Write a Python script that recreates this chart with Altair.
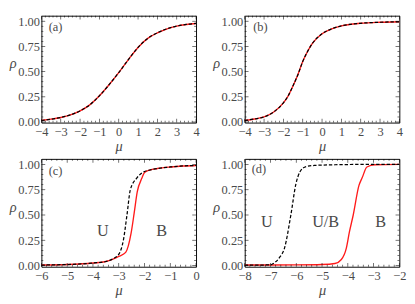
import altair as alt
import pandas as pd
import numpy as np

# ---------------- data ----------------
a_mu = [-4, -3.5, -3, -2.5, -2, -1.5, -1, -0.5, 0, 0.5, 1, 1.5, 2, 2.5, 3, 3.5, 4]
a_red = [0.015, 0.028, 0.045, 0.07, 0.11, 0.17, 0.26, 0.37, 0.49, 0.62, 0.74, 0.83, 0.885, 0.925, 0.952, 0.968, 0.978]
a_black = a_red

b_mu = [-4, -3.5, -3, -2.5, -2, -1.75, -1.5, -1.25, -1, -0.75, -0.5, 0, 0.5, 1, 1.5, 2, 3, 4]
b_red = [0.015, 0.03, 0.05, 0.1, 0.19, 0.26, 0.36, 0.47, 0.6, 0.7, 0.78, 0.875, 0.925, 0.955, 0.97, 0.98, 0.99, 0.995]
b_black = b_red

c_mu_black = [-6, -5, -4, -3.5, -3.2, -3.0, -2.82, -2.68, -2.55, -2.3, -2.0, -1.8, -1.5, -1, -0.5, 0]
c_black = [0.005, 0.01, 0.025, 0.04, 0.07, 0.11, 0.25, 0.5, 0.75, 0.865, 0.93, 0.945, 0.96, 0.975, 0.985, 0.99]
c_mu_red = [-6, -5, -4, -3.5, -3.2, -3.0, -2.73, -2.52, -2.40, -2.28, -2.1, -2.0, -1.8, -1.5, -1, -0.5, 0]
c_red = [0.005, 0.01, 0.025, 0.04, 0.065, 0.09, 0.13, 0.32, 0.52, 0.73, 0.865, 0.92, 0.945, 0.96, 0.975, 0.985, 0.99]

d_mu_black = [-8, -7.5, -7, -6.89, -6.65, -6.46, -6.21, -6.02, -5.85, -5.66, -5.3, -4.5, -3.5, -2]
d_black = [0.005, 0.005, 0.006, 0.02, 0.08, 0.17, 0.5, 0.8, 0.93, 0.975, 0.99, 0.997, 1.0, 1.0]
d_mu_red = [-8, -7, -6, -5, -4.5, -4.25, -4.06, -3.94, -3.79, -3.57, -3.44, -3.26, -2.95, -2]
d_red = [0.005, 0.005, 0.006, 0.01, 0.02, 0.06, 0.17, 0.33, 0.5, 0.79, 0.87, 0.975, 0.997, 1.0]

tags = ["(a)", "(b)", "(c)", "(d)"]
tag_mu = [-3.27, -3.19, -5.45, -7.45]
tag_rho = [0.94, 0.94, 0.93, 0.95]

c_region_text = ["U", "B"]
c_region_mu = [-3.62, -1.33]
c_region_rho = [0.34, 0.34]
d_region_text = ["U", "U/B", "B"]
d_region_mu = [-7.14, -4.86, -2.73]
d_region_rho = [0.43, 0.43, 0.43]

y_major = [0, 0.25, 0.5, 0.75, 1.0]

FONT = "Liberation Serif"
GRAY = "#4a4a4a"
W = 162


def panel(mu_r, rho_r, mu_b, rho_b, xdom, ydom, h, tag, tmu, trho,
          reg_text=None, reg_mu=None, reg_rho=None):
    xs = alt.Scale(domain=xdom, nice=False, zero=False)
    ys = alt.Scale(domain=ydom, nice=False, zero=False)
    x_major = list(range(int(xdom[0]), int(xdom[1]) + 1))
    x_minor = [v for v in np.round(np.arange(xdom[0], xdom[1] + 1e-9, 0.2), 3)
               if abs(v - round(v)) > 1e-6]
    y_minor = [v for v in np.round(np.arange(0, 1.0 + 1e-9, 0.05), 3)
               if abs(v / 0.25 - round(v / 0.25)) > 1e-6]

    xaxis = alt.Axis(values=x_major, format="d", ticks=False, domain=False, grid=False,
                     labelFont=FONT, labelFontSize=13, labelColor=GRAY, labelPadding=3,
                     labelFlush=False, labelOverlap=False,
                     title="μ", titleFont=FONT, titleFontSize=15, titleFontStyle="italic",
                     titleFontWeight="normal", titleColor=GRAY, titlePadding=1)
    yaxis = alt.Axis(values=y_major, format=".2f", ticks=False, domain=False, grid=False,
                     labelFont=FONT, labelFontSize=13, labelColor=GRAY, labelPadding=2,
                     labelFlush=False, labelOverlap=False,
                     title="ρ", titleFont=FONT, titleFontSize=15, titleFontStyle="italic",
                     titleFontWeight="normal", titleColor=GRAY, titleAngle=0,
                     titleX=-30, titleY=h * 0.44, titleAlign="center", titleBaseline="middle")

    X = alt.X("mu:Q", scale=xs, axis=xaxis)
    Y = alt.Y("rho:Q", scale=ys, axis=yaxis)

    dr = pd.DataFrame({"mu": mu_r, "rho": rho_r})
    db = pd.DataFrame({"mu": mu_b, "rho": rho_b})
    red = alt.Chart(dr).mark_line(color="#ff1a1a", strokeWidth=1.4, interpolate="monotone").encode(x=X, y=Y)
    black = alt.Chart(db).mark_line(color="black", strokeWidth=1.3, strokeDash=[3.5, 2],
                                    interpolate="monotone").encode(x=X, y=Y)
    layers = [red, black]

    dt = pd.DataFrame({"mu": [tmu], "rho": [trho], "t": [tag]})
    layers.append(alt.Chart(dt).mark_text(font=FONT, fontSize=13, color=GRAY, align="center",
                                          baseline="middle").encode(x=X, y=Y, text="t:N"))
    if reg_text:
        dg = pd.DataFrame({"mu": reg_mu, "rho": reg_rho, "t": reg_text})
        layers.append(alt.Chart(dg).mark_text(font=FONT, fontSize=17, color=GRAY, align="center",
                                              baseline="middle").encode(x=X, y=Y, text="t:N"))

    # inward frame ticks
    for vals, size in [(x_major, 4), (x_minor, 2)]:
        d = pd.DataFrame({"mu": vals})
        for yv in [h - size / 2, size / 2]:
            layers.append(alt.Chart(d).mark_tick(orient="vertical", size=size, thickness=0.8,
                                                 color="black").encode(x=X, y=alt.value(yv)))
    for vals, size in [(y_major, 4), (y_minor, 2)]:
        d = pd.DataFrame({"rho": vals})
        for xv in [size / 2, W - size / 2]:
            layers.append(alt.Chart(d).mark_tick(orient="horizontal", size=size, thickness=0.8,
                                                 color="black").encode(y=Y, x=alt.value(xv)))
    return alt.layer(*layers).properties(width=W, height=h)


HT, HB = 112, 113
pa = panel(a_mu, a_red, a_mu, a_black, [-4, 4], [-0.006, 1.055], HT, tags[0], tag_mu[0], tag_rho[0])
pb = panel(b_mu, b_red, b_mu, b_black, [-4, 4], [-0.006, 1.055], HT, tags[1], tag_mu[1], tag_rho[1])
pc = panel(c_mu_red, c_red, c_mu_black, c_black, [-6, 0], [-0.012, 1.055], HB, tags[2], tag_mu[2], tag_rho[2],
           c_region_text, c_region_mu, c_region_rho)
pd_ = panel(d_mu_red, d_red, d_mu_black, d_black, [-8, -2], [-0.012, 1.055], HB, tags[3], tag_mu[3], tag_rho[3],
            d_region_text, d_region_mu, d_region_rho)

chart = alt.vconcat(
    alt.hconcat(pa, pb, spacing=12),
    alt.hconcat(pc, pd_, spacing=12),
    spacing=4,
).properties(padding=0).configure_view(stroke="black", strokeWidth=1)

chart.save("out.html", embed_options={"renderer": "svg", "actions": False})
